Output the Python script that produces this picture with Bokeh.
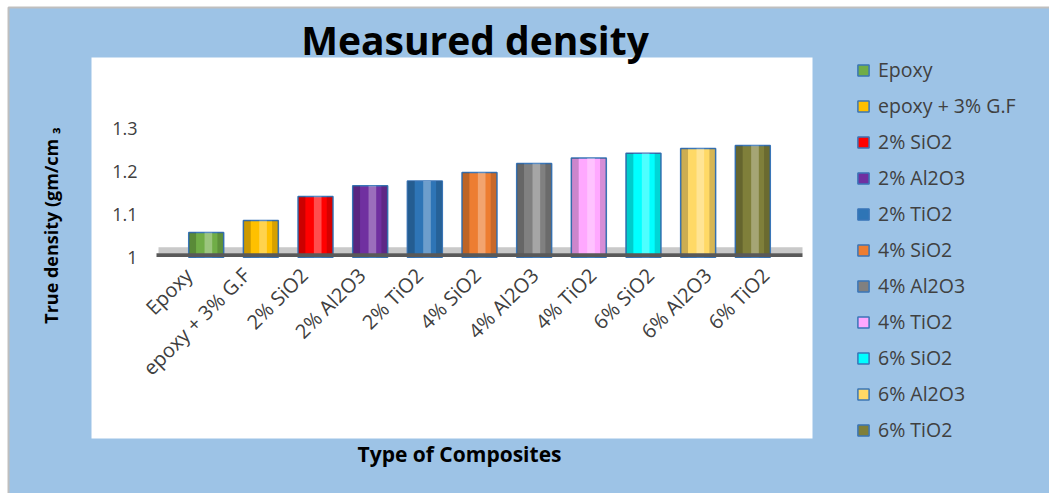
import math
from bokeh.plotting import figure
from bokeh.models import ColumnDataSource, Range1d
from bokeh.core.properties import value
from bokeh.transform import dodge
from bokeh.embed import file_html
from bokeh.resources import INLINE

# ---------------- data ----------------
categories = ["Epoxy", "epoxy + 3% G.F", "2% SiO2", "2% Al2O3", "2% TiO2",
              "4% SiO2", "4% Al2O3", "4% TiO2", "6% SiO2", "6% Al2O3", "6% TiO2"]
density = [1.058, 1.086, 1.142, 1.167, 1.178, 1.198, 1.219, 1.232, 1.243, 1.254, 1.261]
colors = ["#70AD47", "#FFC000", "#FF0000", "#7030A0", "#2E75B6", "#ED7D31",
          "#808080", "#FFA8FF", "#00FFFF", "#FFD966", "#7F7F3A"]
y_ticks = [1.0, 1.1, 1.2, 1.3]
y_tick_labels = ["1", "1.1", "1.2", "1.3"]
title_text = "Measured density"
x_title = "Type of Composites"
y_title = "True density (gm/cm \u2083"
baseline = 1.0

# ---------------- layout (pixels) ----------------
W, H = 1049, 493
X0, DX = 205.7, 54.66        # px of first category, px per category
Y1, DY = 256.7, 428.0        # px of value 1.0, px per unit
L0, LDX = 188.1, 57.7        # tick-label anchors (3D front edge)

def xd(px):
    return (px - X0) / DX

def yd(py):
    return 1 + (Y1 - py) / DY

BLUE_BG = "#9DC3E6"
TXT = "#404040"
FONT = value("Open Sans")

p = figure(width=W, height=H, output_backend="svg", toolbar_location=None,
           x_range=Range1d(xd(0), xd(W)), y_range=Range1d(yd(H), yd(0)),
           x_axis_type=None, y_axis_type=None, min_border=0)
p.extra_x_ranges = {"labels": Range1d((0 - L0) / LDX, (W - L0) / LDX)}
p.xgrid.visible = False
p.ygrid.visible = False
p.outline_line_color = None
p.background_fill_color = "white"
p.border_fill_color = "white"

# chart area (blue) and plot area (white)
p.quad(left=xd(8), right=xd(W + 5), top=yd(7), bottom=yd(H + 5),
       fill_color=BLUE_BG, line_color="#BFBFBF", line_width=2)
p.quad(left=xd(91), right=xd(812), top=yd(57), bottom=yd(438),
       fill_color="white", line_color=None)

# 3D floor
p.quad(left=xd(158), right=xd(802), top=yd(246.7), bottom=yd(253),
       fill_color="#C9C9C9", line_color=None)

src = ColumnDataSource(dict(x=list(range(len(categories))), top=density,
                            category=categories, color=colors))

p.vbar(x="x", top="top", bottom=baseline, width=0.64, source=src,
       fill_color="color", line_color="#3A76B8", line_width=1.5,
       legend_field="category")
# cylinder shading
p.vbar(x=dodge("x", -0.25, range=p.x_range), top="top", bottom=baseline, width=0.13,
       source=src, fill_color="black", fill_alpha=0.2, line_color=None)
p.vbar(x=dodge("x", 0.26, range=p.x_range), top="top", bottom=baseline, width=0.11,
       source=src, fill_color="black", fill_alpha=0.16, line_color=None)
p.vbar(x=dodge("x", 0.04, range=p.x_range), top="top", bottom=baseline, width=0.14,
       source=src, fill_color="white", fill_alpha=0.30, line_color=None)

# floor front line
p.quad(left=xd(156), right=xd(802), top=yd(252.7), bottom=yd(256.5),
       fill_color="#595959", line_color=None)

# y tick labels
p.text(x=xd(137), y=y_ticks, text=y_tick_labels, text_align="right",
       text_baseline="middle", text_font=FONT, text_font_size="18px",
       text_color=TXT)

# x tick labels (rotated)
p.text(x="x", y=yd(271), text="category", source=src, x_range_name="labels",
       angle=math.pi / 4, text_align="right", text_baseline="middle",
       text_font=FONT, text_font_size="20px", text_color=TXT)

# titles
p.text(x=xd(474.5), y=yd(39), text=[title_text], text_align="center",
       text_baseline="middle", text_font=FONT, text_font_style="bold",
       text_font_size="39px", text_color="black")
p.text(x=xd(459), y=yd(453.5), text=[x_title], text_align="center",
       text_baseline="middle", text_font=FONT, text_font_style="bold",
       text_font_size="21px", text_color="black")
p.text(x=xd(50), y=yd(225), text=[y_title], text_align="center",
       text_baseline="middle", angle=math.pi / 2, text_font=FONT,
       text_font_style="bold", text_font_size="18px", text_color="black")

# legend
lg = p.legend[0]
lg.location = (856, H - 443)
lg.background_fill_alpha = 0
lg.border_line_alpha = 0
lg.padding = 0
lg.margin = 0
lg.spacing = 9
lg.glyph_width = 14
lg.glyph_height = 14
lg.label_standoff = 8
lg.label_text_font = "Open Sans"
lg.label_text_font_size = "19.5px"
lg.label_text_color = TXT
lg.label_height = 14

open("out.html", "w").write(file_html(p, INLINE))
